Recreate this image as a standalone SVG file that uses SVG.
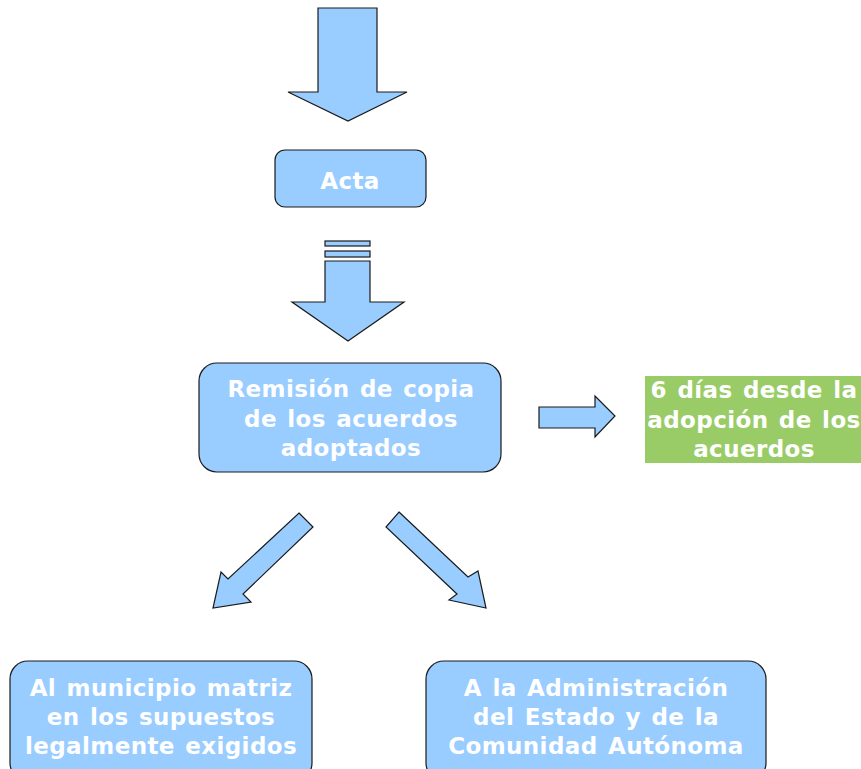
<svg xmlns="http://www.w3.org/2000/svg" width="861" height="769" viewBox="0 0 861 769">
<style>
.shape{fill:#99ccff;stroke:#1a1a1a;stroke-width:1.2}
.box{fill:#99ccff;stroke:#1a1a1a;stroke-width:1.2}
.t{font-family:"DejaVu Sans",Verdana,sans-serif;font-weight:bold;font-size:23px;letter-spacing:0.4px;word-spacing:2px;fill:#ffffff;text-anchor:middle}
</style>
<rect width="861" height="769" fill="#ffffff"/>
<g id="connectors">
<polygon class="shape" points="318,8 377,8 377,92 407,92 348,121 288,92 318,92"/>
<rect class="shape" x="325" y="241" width="45" height="5"/>
<rect class="shape" x="325" y="251" width="45" height="6"/>
<polygon class="shape" points="325,261 370,261 370,302 404,302 348,341 292,302 325,302"/>
<polygon class="shape" points="539,407 595,407 595,396 615,416 595,437 595,428 539,428"/>
<polygon class="shape" points="299,513 313,527 243,594 251,602 213,608 221,572 228,579"/>
<polygon class="shape" points="399,512 468,577 478,571 486,608 449,600 457,594 386,527"/>
</g>
<g id="acta">
<rect class="box" x="275" y="150" width="151" height="57" rx="10"/>
<text class="t" x="350" y="189">Acta</text>
</g>
<g id="remision">
<rect class="box" x="199" y="363" width="302" height="109" rx="18"/>
<text class="t" x="351" y="397">Remisión de copia</text>
<text class="t" x="351" y="427">de los acuerdos</text>
<text class="t" x="351" y="456">adoptados</text>
</g>
<g id="plazo">
<rect x="645" y="376" width="216" height="87" fill="#99cc66"/>
<text class="t" x="754" y="398">6 días desde la</text>
<text class="t" x="754" y="428">adopción de los</text>
<text class="t" x="754" y="457">acuerdos</text>
</g>
<g id="municipio">
<rect class="box" x="10" y="661" width="302" height="120" rx="18"/>
<text class="t" x="161" y="696">Al municipio matriz</text>
<text class="t" x="161" y="725">en los supuestos</text>
<text class="t" x="161" y="754">legalmente exigidos</text>
</g>
<g id="administracion">
<rect class="box" x="426" y="661" width="340" height="120" rx="18"/>
<text class="t" x="596" y="696">A la Administración</text>
<text class="t" x="596" y="725">del Estado y de la</text>
<text class="t" x="596" y="754">Comunidad Autónoma</text>
</g>
</svg>
